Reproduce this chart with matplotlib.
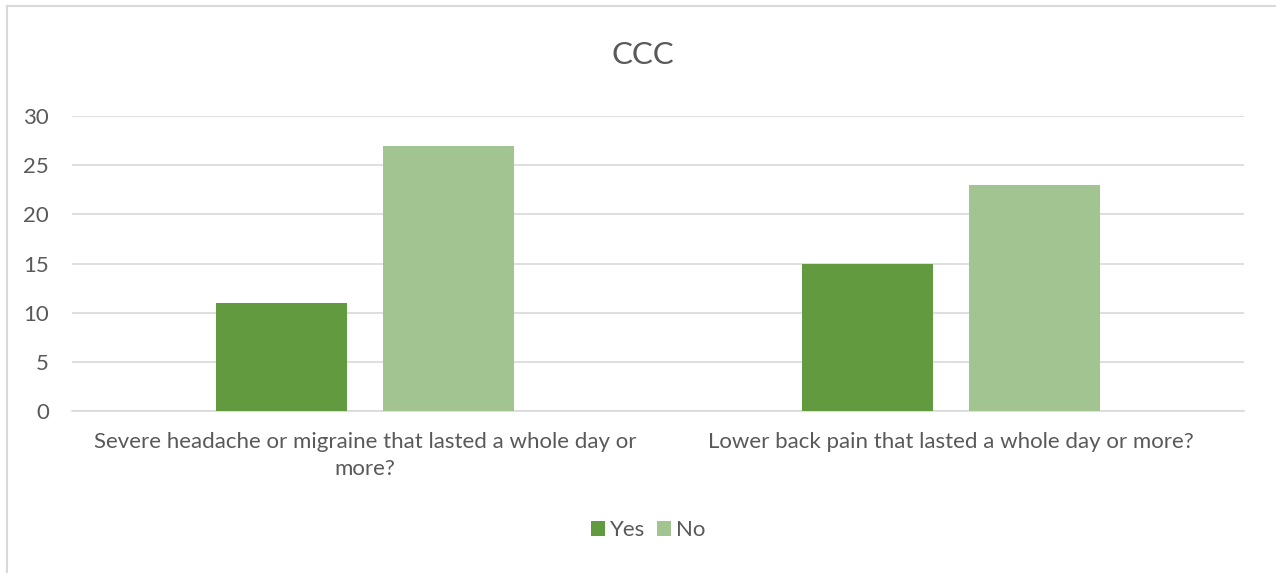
import matplotlib
matplotlib.use("Agg")
import matplotlib.pyplot as plt
from matplotlib.lines import Line2D
import numpy as np

categories = ["Severe headache or migraine that lasted a whole day or\nmore?",
              "Lower back pain that lasted a whole day or more?"]
series_names = ["Yes", "No"]
yes_values = [11, 15]
no_values = [27, 23]
y_ticks = [0, 5, 10, 15, 20, 25, 30]

plt.rcParams["font.family"] = ["Lato", "DejaVu Sans"]
text_color = "#595959"
colors = ["#619a3f", "#a2c491"]

W, H = 1276, 573
fig = plt.figure(figsize=(W / 100, H / 100), dpi=100)
ax = fig.add_axes([72 / W, 1 - 411 / H, (1244 - 72) / W, (411 - 116) / H])

x = np.arange(len(categories))
bw = 0.2235
off = 0.1425
ax.bar(x - off, yes_values, width=bw, color=colors[0], label=series_names[0], zorder=3)
ax.bar(x + off, no_values, width=bw, color=colors[1], label=series_names[1], zorder=3)

ax.set_xlim(-0.5, len(categories) - 0.5)
ax.set_ylim(0, 30)
ax.set_yticks(y_ticks)
ax.set_yticklabels([str(t) for t in y_ticks])
ax.set_xticks(x)
ax.set_xticklabels(categories, fontsize=16, color=text_color, linespacing=1.45)
ax.tick_params(axis="y", labelsize=16, labelcolor=text_color, length=0, pad=16.5)
ax.tick_params(axis="x", length=0, pad=15)
ax.grid(axis="y", color="#d9d9d9", linewidth=1.2, zorder=0)
for s in ["top", "right", "left"]:
    ax.spines[s].set_visible(False)
ax.spines["bottom"].set_color("#d9d9d9")
ax.spines["bottom"].set_linewidth(1.2)

fig.text(643 / W, 1 - 55 / H, "CCC", ha="center", va="center", fontsize=22.5, color=text_color)

leg = fig.legend(loc="center", bbox_to_anchor=(648 / W, 1 - 530 / H), ncol=2, frameon=False,
                 fontsize=16, handlelength=0.65, handleheight=0.65, handletextpad=0.2,
                 columnspacing=0.55)
for t in leg.get_texts():
    t.set_color(text_color)

# chart area border (left and top edges)
fig.add_artist(Line2D([7 / W, 7 / W], [0, 1 - 6 / H], transform=fig.transFigure,
                      color="#d9d9d9", linewidth=1.5))
fig.add_artist(Line2D([7 / W, 1], [1 - 6 / H, 1 - 6 / H], transform=fig.transFigure,
                      color="#d9d9d9", linewidth=1.5))

fig.savefig("out.png", dpi=100, facecolor="white")
